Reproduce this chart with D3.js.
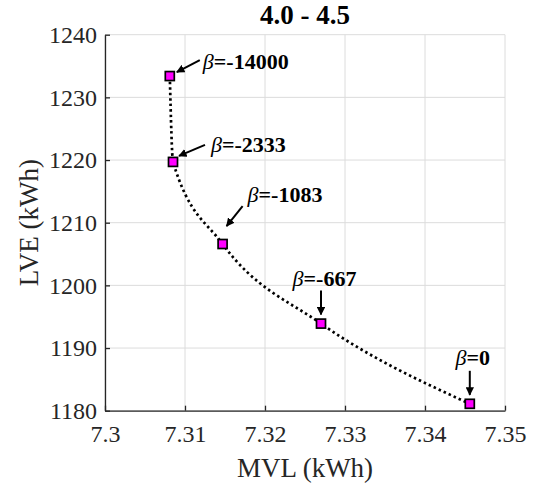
<!DOCTYPE html>
<html>
<head>
<meta charset="utf-8">
<script src="https://cdn.jsdelivr.net/npm/d3@7"></script>
<style>
  body { margin: 0; background: #fff; }
</style>
</head>
<body>
<svg id="chart" width="542" height="485"></svg>
<script>
// values
var mvl = [7.3081, 7.3085, 7.3147, 7.3270, 7.3456];
var lve = [1233.4, 1219.7, 1206.6, 1193.9, 1181.1];
var betaLabels = ['=-14000', '=-2333', '=-1083', '=-667', '=0'];
var xTicks = [7.3, 7.31, 7.32, 7.33, 7.34, 7.35];
var yTicks = [1180, 1190, 1200, 1210, 1220, 1230, 1240];

var serif = '"Liberation Serif"';

// where each annotation sits relative to its marker (pixels)
var annot = [
  {tx: 33, ty: -7, anchor: 'start', x1: 30, y1: -16, x2: 7, y2: -4},
  {tx: 38, ty: -10, anchor: 'start', x1: 32, y1: -17, x2: 6, y2: -6},
  {tx: 25, ty: -42, anchor: 'start', x1: 20, y1: -38, x2: 4, y2: -18},
  {tx: 3.5, ty: -37.5, anchor: 'middle', x1: 0, y1: -33, x2: 0, y2: -9},
  {tx: 3, ty: -39, anchor: 'middle', x1: 0, y1: -33, x2: 0, y2: -9}
];

var svg = d3.select('#chart');
var margin = {left: 105, right: 37, top: 34.7, bottom: 74.3};
var w = 542 - margin.left - margin.right;
var h = 485 - margin.top - margin.bottom;

var x = d3.scaleLinear().domain([7.3, 7.35]).range([0, w]);
var y = d3.scaleLinear().domain([1180, 1240]).range([h, 0]);

svg.append('defs').append('marker')
  .attr('id', 'head')
  .attr('viewBox', '0 0 10 10')
  .attr('refX', 9).attr('refY', 5)
  .attr('markerWidth', 4.2).attr('markerHeight', 4.2)
  .attr('markerUnits', 'strokeWidth')
  .attr('orient', 'auto')
  .append('path')
  .attr('d', 'M0,0 L10,5 L0,10 z')
  .attr('fill', '#000');

var g = svg.append('g').attr('transform', 'translate(' + margin.left + ',' + margin.top + ')');

// grid
g.append('g').selectAll('line').data(xTicks).enter().append('line')
  .attr('x1', function(d){return x(d)}).attr('x2', function(d){return x(d)})
  .attr('y1', 0).attr('y2', h)
  .attr('stroke', '#dcdcdc').attr('stroke-width', 1);
g.append('g').selectAll('line').data(yTicks).enter().append('line')
  .attr('y1', function(d){return y(d)}).attr('y2', function(d){return y(d)})
  .attr('x1', 0).attr('x2', w)
  .attr('stroke', '#dcdcdc').attr('stroke-width', 1);

// axes, ticks pointing inward
var xAxis = g.append('g')
  .attr('transform', 'translate(0,' + h + ')')
  .call(d3.axisBottom(x).tickValues(xTicks).tickFormat(function(d){return String(+d.toFixed(2))})
    .tickSizeInner(-5).tickSizeOuter(0).tickPadding(14));
var yAxis = g.append('g')
  .call(d3.axisLeft(y).tickValues(yTicks).tickFormat(d3.format('d'))
    .tickSizeInner(-5).tickSizeOuter(0).tickPadding(8));
[xAxis, yAxis].forEach(function(a){
  a.select('.domain').attr('stroke', '#262626').attr('stroke-width', 1.3);
  a.selectAll('.tick line').attr('stroke', '#262626').attr('stroke-width', 1.3);
  a.selectAll('.tick text').attr('fill', '#262626')
    .style('font-family', serif).style('font-size', '24px');
});

// axis titles
g.append('text')
  .attr('x', w / 2).attr('y', h + 66)
  .attr('text-anchor', 'middle')
  .attr('fill', '#262626')
  .style('font-family', serif).style('font-size', '27px')
  .text('MVL (kWh)');
g.append('text')
  .attr('transform', 'rotate(-90)')
  .attr('x', -h / 2).attr('y', -67)
  .attr('text-anchor', 'middle')
  .attr('fill', '#262626')
  .style('font-family', serif).style('font-size', '27px')
  .text('LVE (kWh)');

// title
g.append('text')
  .attr('x', w / 2).attr('y', -11)
  .attr('text-anchor', 'middle')
  .style('font-family', serif).style('font-size', '27px')
  .style('font-weight', 'bold')
  .text('4.0 - 4.5');

var pts = mvl.map(function(d, i){return {x: d, y: lve[i], label: betaLabels[i], a: annot[i]}});

// dotted curve
var line = d3.line()
  .x(function(d){return x(d.x)})
  .y(function(d){return y(d.y)})
  .curve(d3.curveMonotoneX);
g.append('path')
  .datum(pts)
  .attr('d', line)
  .attr('fill', 'none')
  .attr('stroke', '#000')
  .attr('stroke-width', 2.7)
  .attr('stroke-dasharray', '2.5,3');

// markers
g.selectAll('.pt').data(pts).enter().append('rect')
  .attr('class', 'pt')
  .attr('x', function(d){return x(d.x) - 4.5})
  .attr('y', function(d){return y(d.y) - 4.5})
  .attr('width', 9).attr('height', 9)
  .attr('fill', '#ff00ff')
  .attr('stroke', '#000')
  .attr('stroke-width', 1.7);

// annotations
var ann = g.selectAll('.ann').data(pts).enter().append('g').attr('class', 'ann')
  .attr('transform', function(d){return 'translate(' + x(d.x) + ',' + y(d.y) + ')'});
ann.append('line')
  .attr('x1', function(d){return d.a.x1}).attr('y1', function(d){return d.a.y1})
  .attr('x2', function(d){return d.a.x2}).attr('y2', function(d){return d.a.y2})
  .attr('stroke', '#000').attr('stroke-width', 2)
  .attr('marker-end', 'url(#head)');
var lbl = ann.append('text')
  .attr('x', function(d){return d.a.tx}).attr('y', function(d){return d.a.ty})
  .attr('text-anchor', function(d){return d.a.anchor})
  .style('font-family', serif).style('font-size', '22px');
lbl.append('tspan').style('font-style', 'italic').text('β');
lbl.append('tspan').style('font-weight', 'bold').text(function(d){return d.label});
</script>
</body>
</html>
